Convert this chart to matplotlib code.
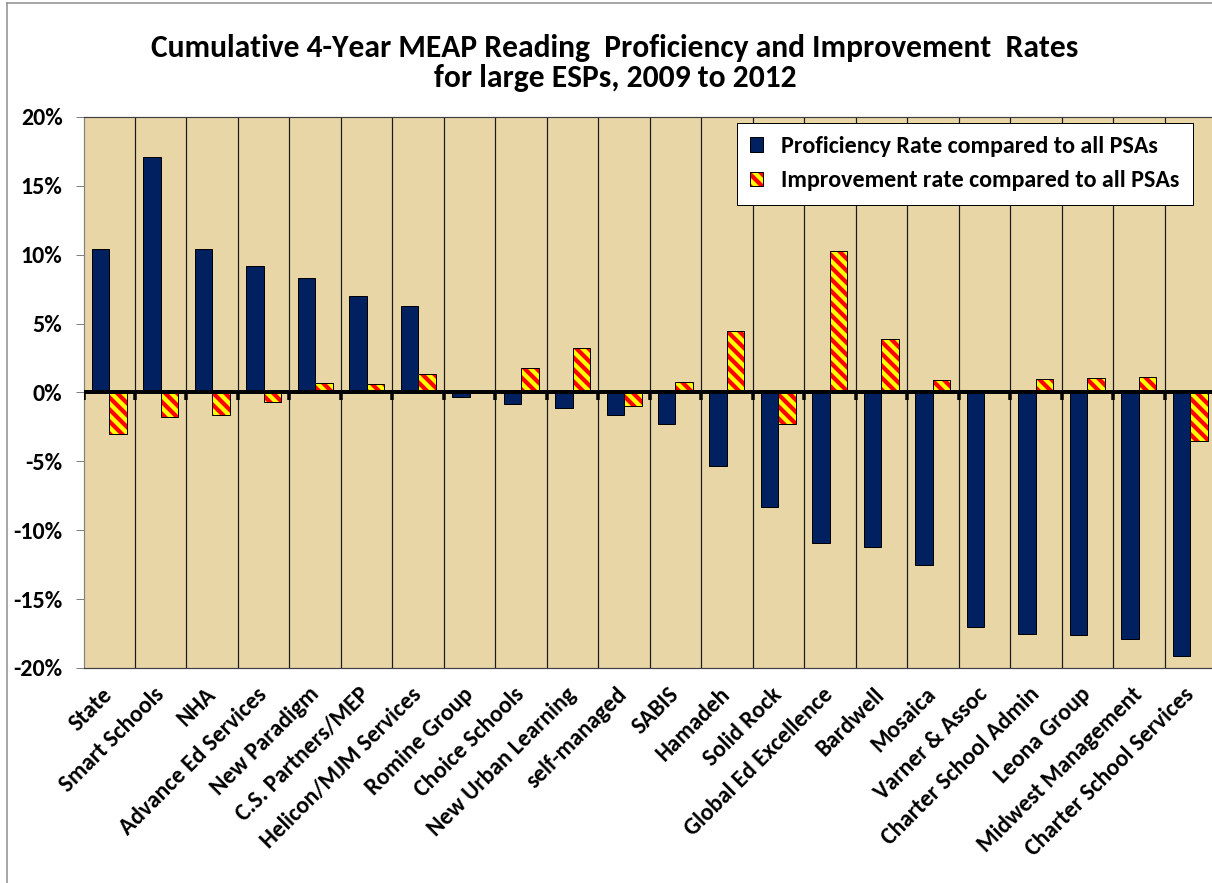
import matplotlib
matplotlib.use('Agg')
import matplotlib.pyplot as plt
import numpy as np
from matplotlib.patches import Patch
from matplotlib.lines import Line2D
from matplotlib.legend_handler import HandlerTuple

# values (percent)
esps = ['State', 'Smart Schools', 'NHA', 'Advance Ed Services', 'New Paradigm',
        'C.S. Partners/MEP', 'Helicon/MJM Services', 'Romine Group', 'Choice Schools',
        'New Urban Learning', 'self-managed', 'SABIS', 'Hamadeh', 'Solid Rock',
        'Global Ed Excellence', 'Bardwell', 'Mosaica', 'Varner & Assoc',
        'Charter School Admin', 'Leona Group', 'Midwest Management',
        'Charter School Services']
proficiency = [10.4, 17.1, 10.4, 9.2, 8.3, 7.0, 6.3, -0.3, -0.8, -1.1, -1.6, -2.3,
               -5.3, -8.3, -10.9, -11.2, -12.5, -17.0, -17.5, -17.6, -17.9, -19.1]
improvement = [-3.0, -1.8, -1.6, -0.7, 0.7, 0.6, 1.35, 0.0, 1.8, 3.2, -1.0, 0.75,
               4.5, -2.3, 10.3, 3.9, 0.9, 0.0, 1.0, 1.05, 1.15, -3.55]
yticks = [-20, -15, -10, -5, 0, 5, 10, 15, 20]

title = ('Cumulative 4-Year MEAP Reading  Proficiency and Improvement  Rates\n'
         'for large ESPs, 2009 to 2012')
legend_labels = ['Proficiency Rate compared to all PSAs',
                 'Improvement rate compared to all PSAs']

plt.rcParams['font.family'] = ['Carlito', 'Lato', 'DejaVu Sans']
plt.rcParams['font.weight'] = 'bold'
plt.rcParams['hatch.linewidth'] = 4.2

W, H = 1212, 883
fig = plt.figure(figsize=(W / 72, H / 72), dpi=72)
fig.patch.set_facecolor('white')
ax = fig.add_axes([83.5 / W, 1 - 668 / H, (1216 - 83.5) / W, (668 - 117) / H])
ax.set_facecolor('#E9D6A6')

x = np.arange(len(esps))
bw = 0.34
navy = '#002060'

ax.bar(x - bw / 2, proficiency, bw, color=navy, edgecolor='black', linewidth=1, zorder=3)
ax.bar(x + bw / 2, improvement, bw, color='#FFFF00', edgecolor='#FF0000',
       linewidth=0, hatch='\\\\', zorder=3)
ax.bar(x + bw / 2, improvement, bw, fill=False, edgecolor='black', linewidth=1, zorder=4)

# category separators and zero line
ax.vlines(x[1:] - 0.5, -20, 20, color='#1a1a1a', linewidth=1.2, zorder=2)
ax.axhline(0, color='black', linewidth=4, zorder=5)
ax.vlines(x - 0.5, -0.55, 0, color='black', linewidth=3.5, zorder=5)

ax.set_xlim(-0.5, len(esps) - 0.5)
ax.set_ylim(-20, 20)
ax.set_yticks(yticks)
ax.set_yticklabels([f'{v}%' for v in yticks], fontsize=24, fontweight='bold')
ax.tick_params(axis='y', length=8, width=1, color='#808080', pad=13)

ax.set_xticks(x)
ax.set_xticklabels(esps, rotation=45, ha='right', va='center',
                   rotation_mode='anchor', fontsize=23.5, fontweight='bold')
ax.tick_params(axis='x', length=0, pad=23)

for side in ['top', 'bottom', 'right']:
    ax.spines[side].set_color('#404040')
    ax.spines[side].set_linewidth(1.2)
ax.spines['left'].set_color('#808080')
ax.spines['left'].set_linewidth(1.2)

fig.text(615 / W, 1 - 63 / H, title, ha='center', va='center', fontsize=31.5,
         fontweight='bold', linespacing=1.1)

h_prof = Patch(facecolor=navy, edgecolor='black', linewidth=1)
h_imp = (Patch(facecolor='#FFFF00', edgecolor='#FF0000', linewidth=0, hatch='\\\\'),
         Patch(fill=False, edgecolor='black', linewidth=1))
leg = ax.legend([h_prof, h_imp], legend_labels, handler_map={tuple: HandlerTuple(ndivide=1)},
                loc='upper right', bbox_to_anchor=(1193 / W, 1 - 123 / H),
                bbox_transform=fig.transFigure, fontsize=24, fancybox=False,
                framealpha=1, edgecolor='black', handlelength=0.55, handleheight=0.55,
                handletextpad=0.75, borderpad=0.55, labelspacing=0.55, borderaxespad=0)
leg.get_frame().set_linewidth(1)
leg.set_zorder(10)

# outer chart border
fig.add_artist(Line2D([7 / W, 7 / W], [0, 1 - 3 / H], transform=fig.transFigure,
                      color='#8c8c8c', linewidth=1.5))
fig.add_artist(Line2D([7 / W, 1], [1 - 3 / H, 1 - 3 / H], transform=fig.transFigure,
                      color='#8c8c8c', linewidth=1.5))

fig.savefig('out.png', dpi=72, facecolor='white')
